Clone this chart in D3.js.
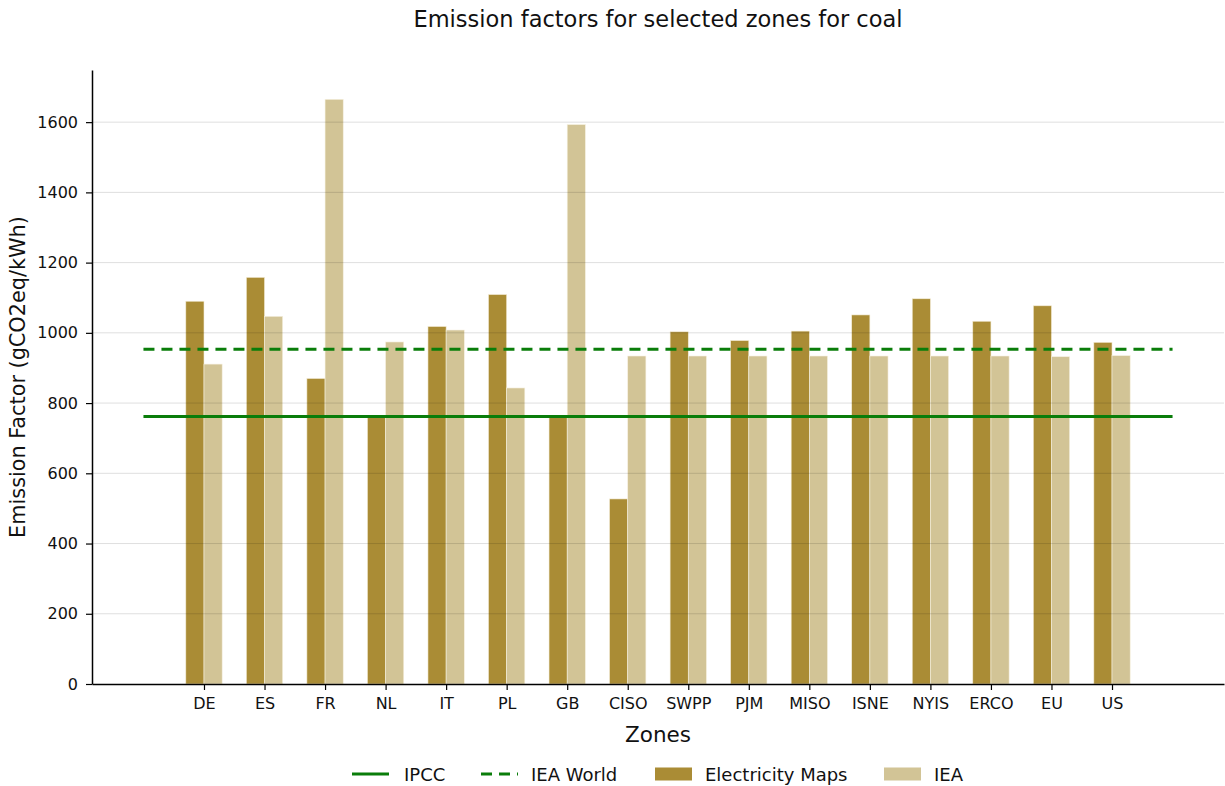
<!DOCTYPE html>
<html>
<head>
<meta charset="utf-8">
<script src="https://cdn.jsdelivr.net/npm/d3@7"></script>
<style>
  html, body { margin: 0; padding: 0; background: #fff; }
  svg { display: block; font-family: "DejaVu Sans", sans-serif; }
</style>
</head>
<body>
<svg id="chart" width="1225" height="786"></svg>
<script>
// Coal emission factors by zone (gCO2eq/kWh)
const zones = ["DE", "ES", "FR", "NL", "IT", "PL", "GB", "CISO", "SWPP", "PJM", "MISO", "ISNE", "NYIS", "ERCO", "EU", "US"];
const electricityMaps = [1090, 1158, 870, 765, 1018, 1109, 765, 527, 1003, 978, 1005, 1051, 1097, 1033, 1077, 973];
const iea = [911, 1047, 1665, 974, 1008, 843, 1593, 934, 934, 934, 934, 934, 934, 934, 932, 935];
const ipccValue = 762;
const ieaWorldValue = 953;
const yTicks = [0, 200, 400, 600, 800, 1000, 1200, 1400, 1600];

const colors = { em: "#aa8c35", iea: "#d2c496", line: "#0a7d0a" };

const svg = d3.select("#chart");
const plot = { left: 92, right: 1224, top: 70, bottom: 684 };
const barW = 0.3;

// x runs on category index, with room on both sides for the reference lines
const x = d3.scaleLinear().domain([-1.85, 16.85]).range([plot.left, plot.right]);
const y = d3.scaleLinear().domain([0, 1748.5]).range([plot.bottom, plot.top]);

// Bars
const g = svg.append("g");
g.selectAll("rect.em").data(zones).join("rect")
  .attr("class", "em")
  .attr("x", (d, i) => x(i - barW))
  .attr("width", x(barW) - x(0))
  .attr("y", (d, i) => y(electricityMaps[i]))
  .attr("height", (d, i) => y(0) - y(electricityMaps[i]))
  .attr("fill", colors.em)
  .attr("stroke", "#f3ecd6").attr("stroke-width", 0.6);

g.selectAll("rect.iea").data(zones).join("rect")
  .attr("class", "iea")
  .attr("x", (d, i) => x(i))
  .attr("width", x(barW) - x(0))
  .attr("y", (d, i) => y(iea[i]))
  .attr("height", (d, i) => y(0) - y(iea[i]))
  .attr("fill", colors.iea)
  .attr("stroke", "#f6f0e0").attr("stroke-width", 0.6);

// Horizontal grid, faint and over the bars
svg.append("g").selectAll("line").data(yTicks.slice(1)).join("line")
  .attr("x1", plot.left).attr("x2", plot.right)
  .attr("y1", d => y(d)).attr("y2", d => y(d))
  .attr("stroke", "#000").attr("stroke-opacity", 0.13).attr("stroke-width", 1);

// Reference lines
svg.append("line")
  .attr("x1", x(-1)).attr("x2", x(16))
  .attr("y1", y(ipccValue)).attr("y2", y(ipccValue))
  .attr("stroke", colors.line).attr("stroke-width", 3);
svg.append("line")
  .attr("x1", x(-1)).attr("x2", x(16))
  .attr("y1", y(ieaWorldValue)).attr("y2", y(ieaWorldValue))
  .attr("stroke", colors.line).attr("stroke-width", 3)
  .attr("stroke-dasharray", "11,7");

// Axes
const yAxis = d3.axisLeft(y).tickValues(yTicks).tickFormat(d3.format("d"))
  .tickSize(6).tickSizeOuter(0).tickPadding(8);
const ya = svg.append("g").attr("transform", `translate(${plot.left},0)`).call(yAxis);
ya.select(".domain").attr("stroke", "#000").attr("stroke-width", 1.5);
ya.selectAll(".tick line").attr("stroke", "#000").attr("stroke-width", 1.2);
ya.selectAll(".tick text").style("font-size", "16px").attr("fill", "#111")
  .style("font-family", "'DejaVu Sans', sans-serif");

const xAxis = d3.axisBottom(x).tickValues(d3.range(zones.length))
  .tickFormat(i => zones[i]).tickSize(6).tickSizeOuter(0).tickPadding(8);
const xa = svg.append("g").attr("transform", `translate(0,${plot.bottom})`).call(xAxis);
xa.select(".domain").attr("stroke", "#000").attr("stroke-width", 1.5);
xa.selectAll(".tick line").attr("stroke", "#000").attr("stroke-width", 1.2);
xa.selectAll(".tick text").style("font-size", "16px").attr("fill", "#111")
  .style("font-family", "'DejaVu Sans', sans-serif");

// Titles
svg.append("text").attr("x", 658).attr("y", 27).attr("text-anchor", "middle")
  .style("font-size", "22.5px").attr("fill", "#111")
  .text("Emission factors for selected zones for coal");
svg.append("text").attr("x", 658).attr("y", 742).attr("text-anchor", "middle")
  .style("font-size", "21.5px").attr("fill", "#111").text("Zones");
svg.append("text")
  .attr("transform", `translate(25,${(plot.top + plot.bottom) / 2}) rotate(-90)`)
  .attr("text-anchor", "middle").style("font-size", "20.8px").attr("fill", "#111")
  .text("Emission Factor (gCO2eq/kWh)");

// Legend
const legendItems = [
  { label: "IPCC", type: "line", x: 352 },
  { label: "IEA World", type: "dash", x: 481 },
  { label: "Electricity Maps", type: "em", x: 655 },
  { label: "IEA", type: "iea", x: 884 }
];
const ly = 774;
const lg = svg.append("g").selectAll("g").data(legendItems).join("g")
  .attr("transform", d => `translate(${d.x},${ly})`);
lg.filter(d => d.type === "line" || d.type === "dash").append("line")
  .attr("x1", 0).attr("x2", 37).attr("y1", 0).attr("y2", 0)
  .attr("stroke", colors.line).attr("stroke-width", 3)
  .attr("stroke-dasharray", d => d.type === "dash" ? "11,7" : null);
lg.filter(d => d.type === "em" || d.type === "iea").append("rect")
  .attr("x", 0).attr("y", -6.5).attr("width", 37).attr("height", 13)
  .attr("fill", d => d.type === "em" ? colors.em : colors.iea);
lg.append("text").attr("x", d => d.type === "line" ? 52 : 50).attr("y", 6.5)
  .style("font-size", "18px").attr("fill", "#111").text(d => d.label);
</script>
</body>
</html>
